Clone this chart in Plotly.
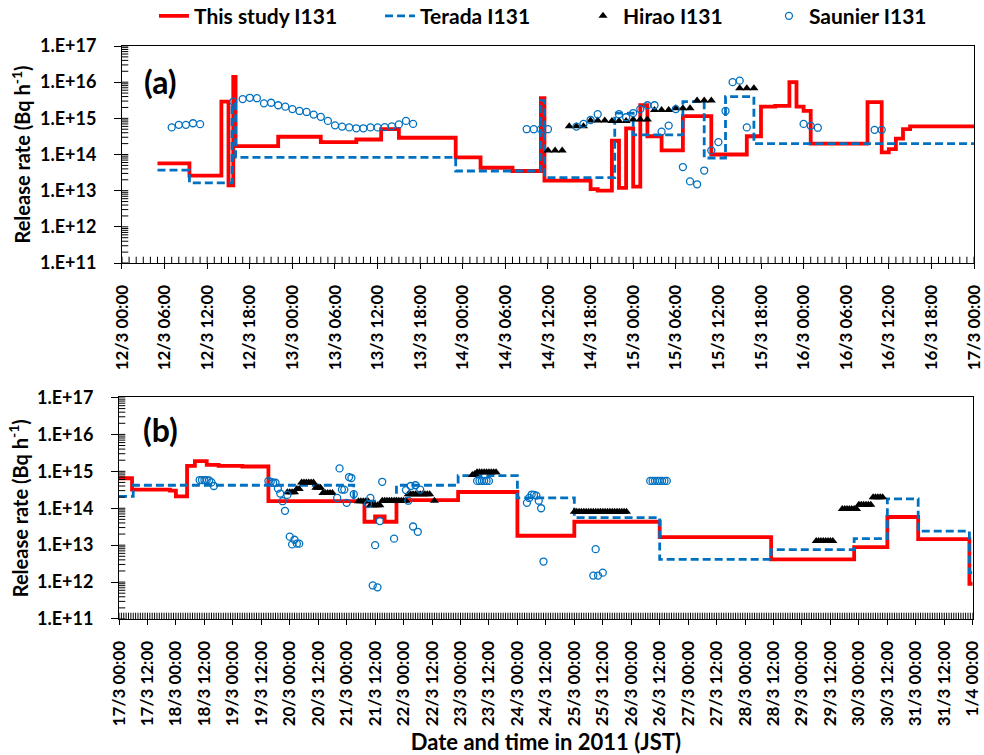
import pandas as pd
import plotly.graph_objects as go

# ---------------- data (hours from panel start) ----------------
start_a = "2011-03-12 00:00"
start_b = "2011-03-17 00:00"
end_b = "2011-04-01 00:00"

# Panel (a): 12/3 - 17/3
red_a_hours = [5, 9.5, 14, 15, 15.67, 16, 22, 28, 33, 36.5, 39, 47, 50.5, 55, 59, 59.5,
               66, 67, 69, 70, 71, 72, 73, 74, 76, 79, 83, 88, 90, 92, 94, 95, 96, 97,
               105, 107, 108, 109, 110, 111, 120]
red_a_vals = [5.7e13, 2.6e13, 2.9e15, 1.4e13, 1.4e16, 1.7e14, 3.1e14, 2.2e14, 2.6e14, 5.0e14,
              2.9e14, 8.3e13, 4.3e13, 3.5e13, 3.6e15, 1.9e13, 1.1e13, 1.0e13, 2.4e14, 1.2e13,
              5.3e14, 1.3e13, 2.3e15, 3.2e14, 1.3e14, 1.15e15, 1.0e14, 3.2e14, 2.1e15, 2.2e15,
              1.0e16, 2.1e15, 1.6e15, 2.0e14, 2.8e15, 1.15e14, 1.4e14, 2.75e14, 5.0e14, 6.0e14,
              6.0e14]

blue_a_hours = [5, 9.5, 15.5, 16, 47, 59, 59.5, 69.4, 72, 79, 82, 85, 89, 120]
blue_a_vals = [3.7e13, 1.65e13, 2.5e15, 8.3e13, 3.5e13, 3.1e15, 2.3e13, 1.4e15, 3.5e14,
               2.9e15, 8.0e13, 4.0e15, 2.0e14, 2.0e14]

hirao_a_hours = [60, 61, 62, 63, 64, 65, 66, 67, 68, 69, 70, 71, 72, 73, 74, 75, 76, 77,
                 78, 79, 80, 81, 82, 83, 87, 88, 89]
hirao_a_vals = [1.3e14, 1.3e14, 1.3e14, 6.0e14, 6.0e14, 6.0e14, 8.7e14, 8.7e14, 8.7e14,
                8.5e14, 8.5e14, 8.5e14, 9.3e14, 9.3e14, 9.3e14, 1.7e15, 1.7e15, 1.7e15,
                1.9e15, 1.9e15, 1.9e15, 3.1e15, 3.1e15, 3.1e15, 6.8e15, 6.8e15, 6.8e15]

saunier_a_hours = [7, 8, 9, 10, 11, 15.67, 17, 18, 19, 20, 21, 22, 23, 24, 25, 26, 27, 28,
                   29, 30, 31, 32, 33, 34, 35, 36, 37, 38, 39, 40, 41, 57, 58, 59, 60,
                   64, 65, 66, 67, 70, 71, 72, 73, 74, 75, 76, 77, 78, 79, 80, 81, 82, 83,
                   84, 85, 86, 87, 88, 96, 97, 98, 106, 107]
saunier_a_vals = [5.6e14, 6.6e14, 6.6e14, 7.3e14, 6.9e14, 2.9e15, 3.4e15, 3.7e15, 3.6e15,
                  2.6e15, 2.7e15, 2.3e15, 2.1e15, 1.8e15, 1.6e15, 1.5e15, 1.27e15, 1.1e15,
                  8.5e14, 6.4e14, 5.9e14, 5.6e14, 5.3e14, 5.3e14, 5.6e14, 5.6e14, 5.7e14,
                  6.0e14, 6.8e14, 8.5e14, 7.0e14, 5.0e14, 5.0e14, 5.0e14, 5.0e14,
                  5.9e14, 7.0e14, 9.0e14, 1.3e15, 1.3e15, 1.07e15, 1.4e15, 1.8e15, 2.3e15,
                  2.3e15, 4.3e14, 6.3e14, 1.8e15, 4.5e13, 1.8e13, 1.5e13, 3.6e13, 1.3e14,
                  2.2e14, 1.6e15, 1.0e16, 1.1e16, 5.6e14, 7.0e14, 6.2e14, 5.5e14, 4.8e14, 4.8e14]

# Panel (b): 17/3 - 1/4
red_b_hours = [0, 5.5, 21.5, 24, 28.7, 32, 37, 42, 52, 63, 103.5, 108, 112, 117, 143, 168,
               192, 228, 275, 310, 324, 337, 358.6, 360]
red_b_vals = [6.5e14, 3.2e14, 3.0e14, 2.1e14, 1.4e15, 1.9e15, 1.5e15, 1.4e15, 1.35e15,
              1.55e14, 4.3e13, 6.0e13, 4.3e13, 1.65e14, 2.75e14, 1.8e13, 4.3e13, 1.65e13,
              4.1e12, 8.9e12, 5.8e13, 1.45e13, 9.0e11, 9.0e11]

blue_b_hours = [0, 6, 99, 117, 143, 168, 192, 228, 275, 310, 324, 337, 358.6, 360]
blue_b_vals = [2.1e14, 4.2e14, 1.55e14, 4.2e14, 7.6e14, 1.9e14, 5.6e13, 4.1e12, 7.6e12,
               1.5e13, 1.8e14, 2.4e13, 1.8e12, 1.8e12]

hirao_b_hours = [71, 72, 73, 74, 75, 76, 77, 78, 79, 80, 81, 82, 83, 84, 85, 86, 87, 88, 89, 90,
                 101, 102, 103, 104, 105, 106, 107, 108, 109, 110,
                 111, 112, 113, 114, 115, 116, 117, 118, 119, 120, 121,
                 122, 123, 124, 125, 126, 127, 128, 129, 130, 131, 133,
                 149, 150, 151, 152, 153, 154, 155, 156, 157, 158, 159,
                 192, 193, 194, 195, 196, 197, 198, 199, 200, 201, 202, 203, 204, 205, 206,
                 207, 208, 209, 210, 211, 212, 213, 214,
                 294, 295, 296, 297, 298, 299, 300, 301,
                 305, 306, 307, 308, 309, 310, 311, 312, 313, 314, 315, 316, 317,
                 318, 319, 320, 321, 322]
hirao_b_vals = [2.7e14, 2.7e14, 2.7e14, 2.7e14, 3.3e14, 3.3e14, 5.0e14, 5.0e14, 5.0e14, 5.0e14,
                5.0e14, 5.0e14, 3.6e14, 3.6e14, 3.6e14, 2.6e14, 2.6e14, 2.6e14, 2.6e14, 2.6e14,
                1.55e14, 1.55e14, 1.55e14, 1.55e14, 1.55e14, 1.2e14, 1.2e14, 1.2e14, 1.2e14, 1.2e14,
                1.6e14, 1.6e14, 1.6e14, 1.6e14, 1.6e14, 1.6e14, 1.6e14, 1.6e14, 1.6e14, 1.6e14, 1.6e14,
                2.4e14, 2.4e14, 2.4e14, 2.4e14, 2.4e14, 2.4e14, 2.4e14, 2.4e14, 2.4e14, 2.4e14, 1.6e14,
                8.0e14, 8.5e14, 9.5e14, 9.5e14, 9.5e14, 9.5e14, 9.5e14, 9.5e14, 9.5e14, 9.5e14, 9.5e14,
                8.0e13, 8.0e13, 8.0e13, 8.0e13, 8.0e13, 8.0e13, 8.0e13, 8.0e13, 8.0e13, 8.0e13,
                8.0e13, 8.0e13, 8.0e13, 8.0e13, 8.0e13, 8.0e13, 8.0e13, 8.0e13, 8.0e13, 8.0e13,
                8.0e13, 8.0e13, 8.0e13,
                1.3e13, 1.3e13, 1.3e13, 1.3e13, 1.3e13, 1.3e13, 1.3e13, 1.3e13,
                9.5e13, 9.5e13, 9.5e13, 9.5e13, 9.5e13, 9.5e13, 9.5e13,
                1.25e14, 1.25e14, 1.25e14, 1.25e14, 1.25e14, 1.25e14,
                2.0e14, 2.0e14, 2.0e14, 2.0e14, 2.0e14]

saunier_b_hours = [34, 35, 36, 37, 38, 39, 40, 63, 64, 65, 66, 67, 68, 69, 70, 71,
                   72, 73, 74, 75, 76, 92, 93, 94, 95, 96, 97, 98, 99,
                   105, 106, 107, 108, 109, 110, 111, 116, 121, 122, 123, 124, 125, 126, 127,
                   151, 152, 153, 154, 155, 156, 172, 173, 174, 175, 176, 177, 178, 179,
                   200, 201, 202, 204, 224, 225, 226, 227, 228, 229, 230, 231]
saunier_b_vals = [5.8e14, 5.8e14, 5.8e14, 5.8e14, 5.7e14, 5.0e14, 4.0e14,
                  5.5e14, 5.2e14, 4.9e14, 4.9e14, 3.4e14, 2.5e14, 1.55e14, 8.5e13, 2.3e14,
                  1.7e13, 1.05e13, 1.4e13, 1.1e13, 1.1e13,
                  1.9e14, 1.2e15, 3.2e14, 3.2e14, 1.4e14, 7.0e14, 6.6e14, 2.4e14,
                  1.3e14, 1.9e14, 8.1e11, 1.0e13, 7.2e11, 4.5e13, 5.2e14,
                  1.5e13, 3.1e14, 1.6e14, 4.0e14, 3.2e13, 4.2e14, 2.3e13, 3.2e14,
                  5.5e14, 5.5e14, 5.5e14, 5.5e14, 5.5e14, 5.5e14,
                  1.4e14, 1.9e14, 2.35e14, 2.3e14, 2.2e14, 1.6e14, 1.0e14, 3.6e12,
                  1.5e12, 7.8e12, 1.5e12, 1.8e12,
                  5.5e14, 5.5e14, 5.5e14, 5.5e14, 5.5e14, 5.5e14, 5.5e14, 5.5e14]

y_tick_vals = [1e11, 1e12, 1e13, 1e14, 1e15, 1e16, 1e17]
y_tick_text = ["1.E+11", "1.E+12", "1.E+13", "1.E+14", "1.E+15", "1.E+16", "1.E+17"]

names = ["This study I131", "Terada I131", "Hirao I131", "Saunier I131"]
legend_ids = ["legend", "legend2", "legend3", "legend4"]
legend_x = [0.0409, 0.3053, 0.5427, 0.7602]


def to_time(base, hours):
    return pd.Timestamp(base) + pd.to_timedelta(hours, unit="h")


FONT = "Lato"
RED = "#FF0000"
BLUE = "#0070C0"

fig = go.Figure()


def add_panel(base, rh, rv, bh, bv, hh, hv, sh, sv, xa, ya, legend):
    fig.add_trace(go.Scatter(x=to_time(base, rh), y=rv, mode="lines", name=names[0],
                             line=dict(shape="hv", color=RED, width=3.8),
                             legend=legend_ids[0],
                             xaxis=xa, yaxis=ya, showlegend=legend, legendgroup="r"))
    fig.add_trace(go.Scatter(x=to_time(base, bh), y=bv, mode="lines", name=names[1],
                             line=dict(shape="hv", color=BLUE, width=2.8, dash="8px,4px"),
                             legend=legend_ids[1],
                             xaxis=xa, yaxis=ya, showlegend=legend, legendgroup="b"))
    fig.add_trace(go.Scatter(x=to_time(base, hh), y=hv, mode="markers", name=names[2],
                             marker=dict(symbol="triangle-up", color="black", size=8),
                             legend=legend_ids[2],
                             xaxis=xa, yaxis=ya, showlegend=legend, legendgroup="h"))
    fig.add_trace(go.Scatter(x=to_time(base, sh), y=sv, mode="markers", name=names[3],
                             marker=dict(symbol="circle-open", color=BLUE, size=7,
                                         line=dict(width=1.3, color=BLUE)),
                             legend=legend_ids[3],
                             xaxis=xa, yaxis=ya, showlegend=legend, legendgroup="s"))


add_panel(start_a, red_a_hours, red_a_vals, blue_a_hours, blue_a_vals,
          hirao_a_hours, hirao_a_vals, saunier_a_hours, saunier_a_vals, "x", "y", True)
add_panel(start_b, red_b_hours, red_b_vals, blue_b_hours, blue_b_vals,
          hirao_b_hours, hirao_b_vals, saunier_b_hours, saunier_b_vals, "x2", "y2", False)


# ---- small inside tick marks (axis decoration, Excel style): hourly on time axis,
# ---- 1..9 per decade on the log axis; half of each mark is clipped by the plot area
def add_inner_ticks(x0, x1, xa, ya):
    hours = pd.date_range(x0, x1, freq="h")
    fig.add_trace(go.Scatter(x=hours, y=[y_tick_vals[0]] * len(hours), mode="markers",
                             marker=dict(symbol="line-ns", size=9, line=dict(width=1, color="black")),
                             xaxis=xa, yaxis=ya, showlegend=False, hoverinfo="skip"))
    levels = [k * d for d in y_tick_vals[:-1] for k in range(1, 10)] + [y_tick_vals[-1]]
    fig.add_trace(go.Scatter(x=[pd.Timestamp(x0)] * len(levels), y=levels, mode="markers",
                             marker=dict(symbol="line-ew", size=9, line=dict(width=1, color="black")),
                             xaxis=xa, yaxis=ya, showlegend=False, hoverinfo="skip"))


add_inner_ticks(start_a, start_b, "x", "y")
add_inner_ticks(start_b, end_b, "x2", "y2")

xtickfont = dict(family=FONT, size=17, color="black", weight="bold")
ytickfont = dict(family=FONT, size=18, color="black", weight="bold")

RANGE_A = [start_a, start_b]
RANGE_B = [start_b, end_b]
DOM_XA, DOM_YA = [0.0035, 1.0], [0.6213, 1.0]
DOM_XB, DOM_YB = [0.0, 0.9985], [0.0, 0.3866]


def xaxis_cfg(rng, dtick, domain, anchor, title=None):
    cfg = dict(type="date", range=rng, domain=domain, anchor=anchor, automargin=False,
               tick0=rng[0], dtick=dtick, tickformat="%-d/%-m %H:%M", tickangle=-90,
               ticks="outside", ticklen=5, tickwidth=1, tickcolor="black",
               showline=True, mirror=True, linecolor="black", linewidth=1,
               showgrid=False, zeroline=False, tickfont=xtickfont, ticklabelstandoff=9)
    if title:
        cfg["title"] = dict(text=title, font=dict(family=FONT, size=22, color="black", weight="bold"),
                            standoff=18)
    return cfg


def yaxis_cfg(domain, anchor):
    return dict(type="log", range=[11, 17], domain=domain, anchor=anchor, automargin=False,
                tickvals=y_tick_vals, ticktext=y_tick_text,
                ticks="outside", ticklen=7, tickwidth=1, tickcolor="black",
                showline=True, mirror=True, linecolor="black", linewidth=1,
                showgrid=False, zeroline=False, tickfont=ytickfont, ticklabelstandoff=14,
                title=dict(text="Release rate (Bq h<sup>-1</sup>)",
                           font=dict(family=FONT, size=20, color="black", weight="bold"),
                           standoff=3))


legend_font = dict(family=FONT, size=21, color="black", weight="bold")
legends = {}
for lid, lx in zip(legend_ids, legend_x):
    legends[lid] = dict(orientation="h", x=lx, xanchor="left", y=1.052, yanchor="middle",
                        font=legend_font, itemwidth=30, bgcolor="rgba(0,0,0,0)")

fig.update_layout(
    width=984, height=755,
    margin=dict(l=119, r=10, t=46, b=136, autoexpand=False),
    paper_bgcolor="white", plot_bgcolor="white",
    font=dict(family=FONT, size=16, color="black", weight="bold"),
    xaxis=xaxis_cfg(RANGE_A, 21600000, DOM_XA, "y"),
    yaxis=yaxis_cfg(DOM_YA, "x"),
    xaxis2=xaxis_cfg(RANGE_B, 43200000, DOM_XB, "y2", title="Date and time in 2011 (JST)"),
    yaxis2=yaxis_cfg(DOM_YB, "x2"),
    showlegend=True,
    hovermode="closest",
    annotations=[
        dict(text="(a)", x=0.048, y=0.938, xref="paper", yref="paper", showarrow=False,
             xanchor="center", yanchor="middle",
             font=dict(family=FONT, size=32, color="black", weight="bold")),
        dict(text="(b)", x=0.048, y=0.330, xref="paper", yref="paper", showarrow=False,
             xanchor="center", yanchor="middle",
             font=dict(family=FONT, size=32, color="black", weight="bold")),
    ],
    **legends,
)

fig.write_html("out.html")
